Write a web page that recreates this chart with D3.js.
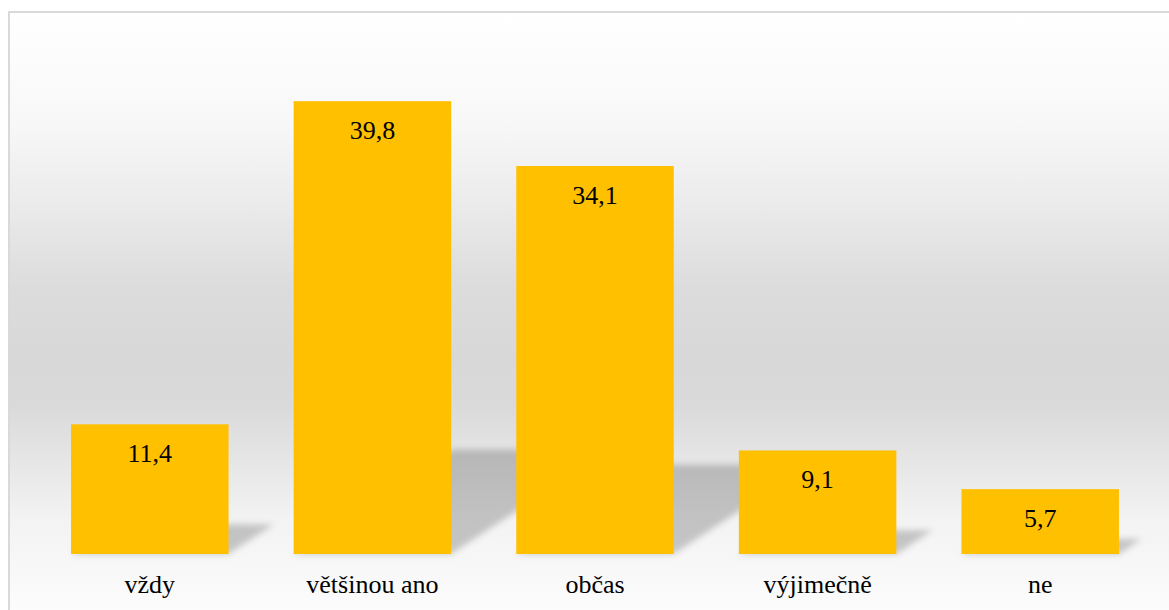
<!DOCTYPE html>
<html>
<head>
<meta charset="utf-8">
<script src="https://cdn.jsdelivr.net/npm/d3@7"></script>
<style>
  html, body { margin: 0; padding: 0; background: #ffffff; }
  svg { display: block; }
</style>
</head>
<body>
<svg id="chart" width="1169" height="610" style="font-family: 'Liberation Serif', serif"></svg>
<script>
// Survey answers and their shares (%)
const categories = ["vždy", "většinou ano", "občas", "výjimečně", "ne"];
const values = [11.4, 39.8, 34.1, 9.1, 5.7];
const valueLabels = ["11,4", "39,8", "34,1", "9,1", "5,7"];

const W = 1169, H = 610;
const fontStack = '"Liberation Serif", serif';
const svg = d3.select("#chart");
const defs = svg.append("defs");

// Chart area background: soft vertical grey gradient
const grad = defs.append("linearGradient")
  .attr("id", "bgGrad")
  .attr("gradientUnits", "userSpaceOnUse")
  .attr("x1", 0).attr("y1", 12).attr("x2", 0).attr("y2", 610);
[
  [0.00, "#ffffff"],
  [0.18, "#f8f8f8"],
  [0.31, "#ececec"],
  [0.46, "#dcdcdc"],
  [0.58, "#d8d8d8"],
  [0.66, "#dadada"],
  [0.75, "#e6e6e6"],
  [0.85, "#f3f3f3"],
  [1.00, "#fcfcfc"]
].forEach(([o, c]) => grad.append("stop").attr("offset", o).attr("stop-color", c));

// Blur for the perspective shadows
defs.append("filter")
  .attr("id", "shadowBlur")
  .attr("x", "-50%").attr("y", "-50%").attr("width", "200%").attr("height", "200%")
  .append("feGaussianBlur").attr("stdDeviation", 3);

svg.append("rect")
  .attr("x", 9).attr("y", 12)
  .attr("width", W + 40).attr("height", H + 40)
  .attr("fill", "url(#bgGrad)")
  .attr("stroke", "#d9d9d9")
  .attr("stroke-width", 2);

// Scales
const x = d3.scaleBand()
  .domain(categories)
  .range([38.5, 1151.5])
  .paddingInner(0.2925)
  .paddingOuter(0.14625);

const y = d3.scaleLinear()
  .domain([0, 45])
  .range([554, 42]);

const data = categories.map((c, i) => ({ cat: c, value: values[i], label: valueLabels[i] }));

// Perspective shadows: bar footprint squashed vertically and skewed to the upper right
const squash = 0.23, skew = 1.52;
svg.append("g")
  .attr("filter", "url(#shadowBlur)")
  .selectAll("polygon")
  .data(data)
  .join("polygon")
  .attr("fill", "#000000")
  .attr("fill-opacity", 0.2)
  .attr("points", d => {
    const x0 = x(d.cat), x1 = x0 + x.bandwidth();
    const base = y(0);
    const sh = (y(0) - y(d.value)) * squash;
    const s = sh * skew;
    return [[x0, base], [x1, base], [x1 + s, base - sh], [x0 + s, base - sh]]
      .map(p => p.join(",")).join(" ");
  });

// Bars
svg.append("g")
  .selectAll("rect")
  .data(data)
  .join("rect")
  .attr("x", d => x(d.cat))
  .attr("y", d => y(d.value))
  .attr("width", x.bandwidth())
  .attr("height", d => y(0) - y(d.value))
  .attr("fill", "#ffc000");

// Value labels inside the bars, near the top
svg.append("g")
  .selectAll("text")
  .data(data)
  .join("text")
  .attr("x", d => x(d.cat) + x.bandwidth() / 2)
  .attr("y", d => y(d.value) + 38)
  .attr("text-anchor", "middle")
  .style("font-family", fontStack)
  .style("font-size", "26px")
  .attr("fill", "#000000")
  .text(d => d.label);

// Category labels under the bars
const xAxis = d3.axisBottom(x).tickSize(0).tickPadding(0);
const axisG = svg.append("g")
  .attr("transform", `translate(0,${y(0)})`)
  .call(xAxis);
axisG.attr("font-family", null).attr("font-size", null);
axisG.select(".domain").remove();
axisG.selectAll("text")
  .attr("y", 39)
  .attr("dy", 0)
  .style("font-family", fontStack)
  .style("font-size", "26px")
  .attr("fill", "#000000");
</script>
</body>
</html>
